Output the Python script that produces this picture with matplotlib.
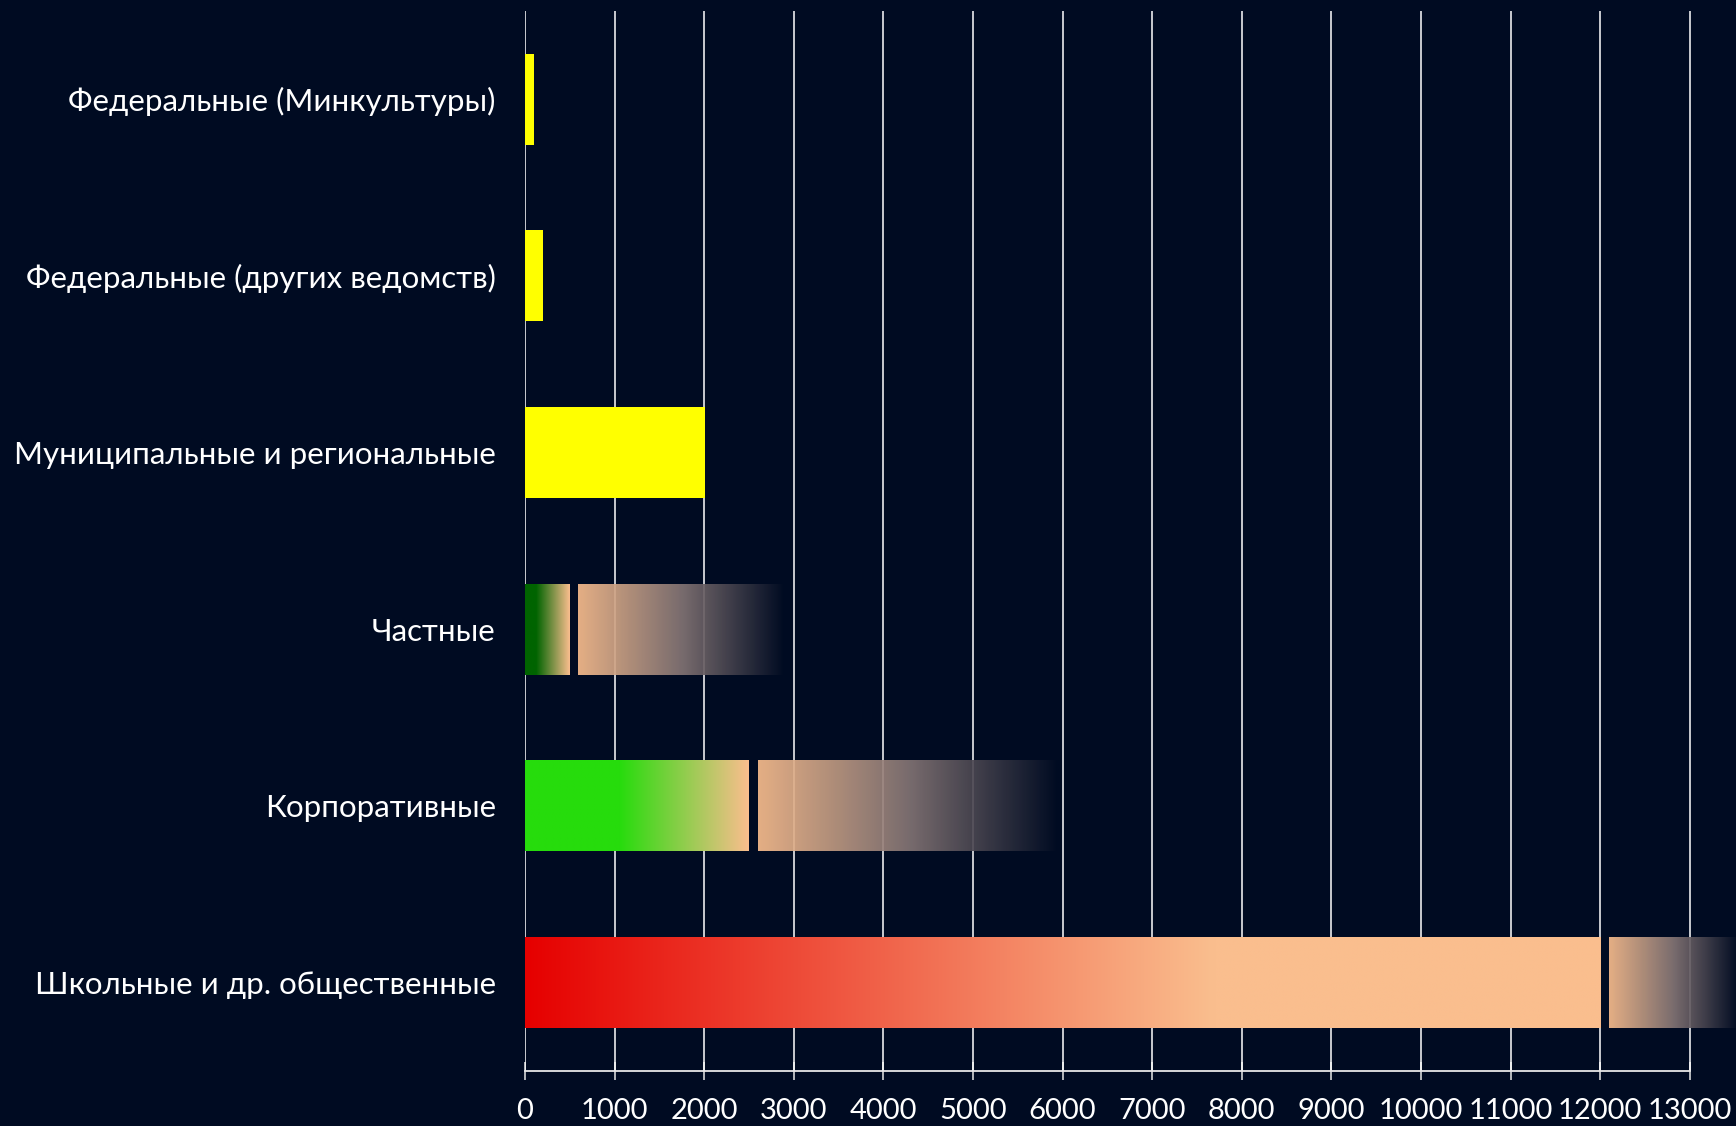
import numpy as np
import matplotlib
matplotlib.use("Agg")
import matplotlib.pyplot as plt
from matplotlib.colors import to_rgb

# categories, top to bottom
categories = [
    "Федеральные (Минкультуры)",
    "Федеральные (других ведомств)",
    "Муниципальные и региональные",
    "Частные",
    "Корпоративные",
    "Школьные и др. общественные",
]
# known part of each bar
known_values = [100, 200, 2000, 500, 2500, 12000]
# uncertain range (start, end), None where absent
range_start = [None, None, None, 590, 2600, 12100]
range_end = [None, None, None, 2900, 5950, 13550]

tick_values = list(range(0, 13001, 1000))

BG = "#000b22"
PEACH = (250 / 255, 190 / 255, 142 / 255)

# gradient stops per known bar: (position, colour)
known_gradients = [
    [(0.0, "#ffff00"), (1.0, "#ffff00")],
    [(0.0, "#ffff00"), (1.0, "#ffff00")],
    [(0.0, "#ffff00"), (1.0, "#ffff00")],
    [(0.0, "#006400"), (0.25, "#006400"), (1.0, PEACH)],
    [(0.0, "#26dc0c"), (0.42, "#26dc0c"), (1.0, PEACH)],
    [(0.0, "#e60000"), (0.64, PEACH), (1.0, PEACH)],
]
range_gradient = [(0.0, PEACH), (0.5, (0.52, 0.46, 0.46)), (1.0, to_rgb(BG))]

plt.rcParams["font.family"] = ["Lato", "DejaVu Sans"]


def gradient_image(stops, n=256, alpha=1.0):
    xs = np.linspace(0, 1, n)
    pos = [p for p, _ in stops]
    cols = np.array([to_rgb(c) for _, c in stops])
    rgb = np.stack([np.interp(xs, pos, cols[:, k]) for k in range(3)], axis=-1)
    a = np.full((n, 1), alpha)
    return np.concatenate([rgb, a], axis=1)[None, :, :]


fig = plt.figure(figsize=(17.36, 11.26), dpi=100, facecolor=BG)
ax = fig.add_axes([525 / 1736, 1 - 1071 / 1126, 1 - 525 / 1736, (1071 - 11) / 1126])
ax.set_facecolor(BG)

bar_h = 0.515
for i, name in enumerate(categories):
    img = gradient_image(known_gradients[i])
    ax.imshow(img, extent=(0, known_values[i], i + bar_h / 2, i - bar_h / 2),
              aspect="auto", interpolation="bilinear", zorder=3)
    if range_start[i] is not None:
        img = gradient_image(range_gradient, alpha=0.92)
        ax.imshow(img, extent=(range_start[i], range_end[i], i + bar_h / 2, i - bar_h / 2),
                  aspect="auto", interpolation="bilinear", zorder=3)

for v in tick_values:
    ax.axvline(v, color="white", linewidth=1.1, zorder=2)

xmax = (1736 - 525) / 89.6 * 1000
ax.set_xlim(0, xmax)
ax.set_ylim(len(categories) - 0.5, -0.5)

ax.set_xticks(tick_values)
ax.set_xticklabels([str(v) for v in tick_values])
ax.set_yticks(range(len(categories)))
ax.set_yticklabels(categories)

for side in ("top", "right", "left"):
    ax.spines[side].set_visible(False)
ax.spines["bottom"].set_color("#e8e8e8")
ax.spines["bottom"].set_linewidth(1.3)
ax.spines["bottom"].set_bounds(0, 13000)

ax.tick_params(axis="x", colors="#e8e8e8", labelcolor="white", labelsize=21,
               length=13, width=1.1, direction="inout", pad=13)
ax.tick_params(axis="y", length=0, labelcolor="white", labelsize=22.5, pad=21)

fig.savefig("out.png", dpi=100, facecolor=BG)
